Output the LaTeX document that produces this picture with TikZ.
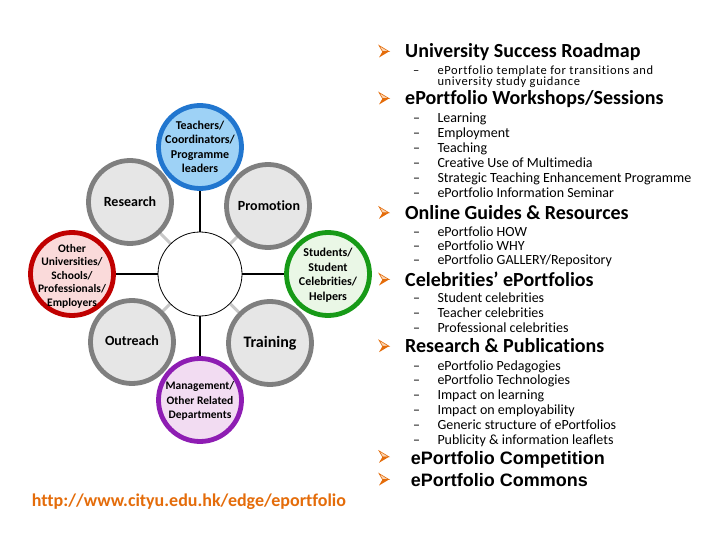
\documentclass[tikz,border=0pt]{standalone}
\usepackage{fontspec}
\setmainfont{Carlito}[Ligatures=NoCommon]
\newfontfamily\arialfam{Liberation Sans}
\usetikzlibrary{backgrounds}
\definecolor{orng}{HTML}{E46C0A}
\definecolor{orngl}{HTML}{FAD3B0}
\definecolor{ringgray}{HTML}{7F7F7F}
\definecolor{fillgray}{HTML}{E6E6E6}
\definecolor{linkgray}{HTML}{C8C8C8}
\definecolor{bluering}{HTML}{2176CF}
\definecolor{bluefill}{HTML}{9ED2F6}
\definecolor{redring}{HTML}{C00000}
\definecolor{redfill}{HTML}{FADADA}
\definecolor{greenring}{HTML}{179A17}
\definecolor{greenfill}{HTML}{EAF7E6}
\definecolor{purplering}{HTML}{8E1DB3}
\definecolor{purplefill}{HTML}{F2DCF2}
\tikzset{
  ring/.style={circle, minimum size=83pt, inner sep=0pt, line width=4.8pt},
  grayring/.style={ring, draw=ringgray, fill=fillgray},
  hub/.style={circle, minimum size=84pt, inner sep=0pt, draw=black, line width=0.8pt, fill=white},
  lbl/.style={align=center, inner sep=0pt, font=\bfseries\fontsize{12}{14.5}\selectfont},
  biglbl/.style={inner sep=0pt, font=\bfseries\fontsize{14}{16}\selectfont},
  spoke/.style={line width=1.6pt, draw=black},
  graylink/.style={line width=3pt, draw=linkgray},
  head/.style={anchor=base west, inner sep=0pt, font=\bfseries\fontsize{20}{22}\selectfont},
  arhead/.style={anchor=base west, inner sep=0pt, font=\arialfam\bfseries\fontsize{18}{20}\selectfont},
  itemtxt/.style={anchor=base west, inner sep=0pt, font=\fontsize{14}{15}\selectfont},
  dashtxt/.style={anchor=base west, inner sep=0pt, font=\fontsize{14}{15}\selectfont},
  arrowbul/.pic={
    \filldraw[fill=orngl, draw=orng, line width=0.6pt] (5,0) -- (-5,-6) -- (-1.5,0) -- cycle;
    \fill[orng] (5,0) -- (-1.5,0) -- (-5,6) -- cycle;
  }
}
\begin{document}
\begin{tikzpicture}[x=1pt,y=-1pt]
\useasboundingbox (0,0) rectangle (720,540);

% hub and circles
\node[hub] (hub) at (200,274) {};
\node[ring, draw=bluering, fill=bluefill] (teach) at (200,147) {};
\node[ring, draw=redring, fill=redfill] (other) at (72,274) {};
\node[ring, draw=greenring, fill=greenfill] (stud) at (328,274) {};
\node[ring, draw=purplering, fill=purplefill] (mgmt) at (200,400) {};
\node[grayring] (res) at (130,202) {};
\node[grayring] (prom) at (268,206) {};
\node[grayring] (outr) at (132,342) {};
\node[grayring] (train) at (270,343) {};

\begin{scope}[on background layer]
  \draw[graylink] (hub) -- (res);
  \draw[graylink] (hub) -- (prom);
  \draw[graylink] (hub) -- (outr);
  \draw[graylink] (hub) -- (train);
  \draw[spoke] (hub) -- (teach);
  \draw[spoke] (hub) -- (other);
  \draw[spoke] (hub) -- (stud);
  \draw[spoke] (hub) -- (mgmt);
\end{scope}

\node[lbl] (teachL) at (200,147) {Teachers/\\Coordinators/\\Programme\\leaders};
\node[lbl, font=\bfseries\fontsize{11.5}{13.5}\selectfont] (otherL) at (72,276) {Other\\Universities/\\Schools/\\Professionals/\\Employers};
\node[lbl] (studL) at (328,275) {Students/\\Student\\Celebrities/\\Helpers};
\node[lbl, font=\bfseries\fontsize{11.5}{14.5}\selectfont] (mgmtL) at (200,401) {Management/\\Other Related\\Departments};
\node[biglbl] (resL) at (130,202) {Research};
\node[biglbl] (promL) at (269,206) {Promotion};
\node[biglbl] (outrL) at (132,341) {Outreach};
\node[biglbl, font=\bfseries\fontsize{16}{18}\selectfont] (trainL) at (270,343) {Training};

% right-hand list
\pic at (384,51.5) {arrowbul};
\node[head] (h1) at (405,58) {University Success Roadmap};
\node[dashtxt, font=\fontsize{12.5}{14}\selectfont] (d11) at (413,74.3) {–};
\node[itemtxt, align=left, font=\addfontfeatures{LetterSpace=5}\fontsize{12.5}{11.4}\selectfont] (i11) at (437.3,85.7) {ePortfolio template for transitions and\\university study guidance};

\pic at (384,98.5) {arrowbul};
\node[head] (h2) at (405,105) {ePortfolio Workshops/Sessions};
\node[dashtxt] (d21) at (413,122.3) {–};
\node[itemtxt] (i21) at (437.3,122.3) {Learning};
\node[dashtxt] (d22) at (413,137.3) {–};
\node[itemtxt] (i22) at (437.3,137.3) {Employment};
\node[dashtxt] (d23) at (413,152.3) {–};
\node[itemtxt] (i23) at (437.3,152.3) {Teaching};
\node[dashtxt] (d24) at (413,167.3) {–};
\node[itemtxt] (i24) at (437.3,167.3) {Creative Use of Multimedia};
\node[dashtxt] (d25) at (413,182.3) {–};
\node[itemtxt] (i25) at (437.3,182.3) {Strategic Teaching Enhancement Programme};
\node[dashtxt] (d26) at (413,197.3) {–};
\node[itemtxt] (i26) at (437.3,197.3) {ePortfolio Information Seminar};

\pic at (384,212.8) {arrowbul};
\node[head] (h3) at (405,219.3) {Online Guides \& Resources};
\node[dashtxt] (d31) at (413,236.5) {–};
\node[itemtxt] (i31) at (437.3,236.5) {ePortfolio HOW};
\node[dashtxt] (d32) at (413,250.5) {–};
\node[itemtxt] (i32) at (437.3,250.5) {ePortfolio WHY};
\node[dashtxt] (d33) at (413,264.5) {–};
\node[itemtxt] (i33) at (437.3,264.5) {ePortfolio GALLERY/Repository};

\pic at (384,279.5) {arrowbul};
\node[head] (h4) at (405,286) {Celebrities’ ePortfolios};
\node[dashtxt] (d41) at (413,302.6) {–};
\node[itemtxt] (i41) at (437.3,302.6) {Student celebrities};
\node[dashtxt] (d42) at (413,317.4) {–};
\node[itemtxt] (i42) at (437.3,317.4) {Teacher celebrities};
\node[dashtxt] (d43) at (413,332.3) {–};
\node[itemtxt] (i43) at (437.3,332.3) {Professional celebrities};

\pic at (384,346.2) {arrowbul};
\node[head] (h5) at (405,352.7) {Research \& Publications};
\node[dashtxt] (d51) at (413,370) {–};
\node[itemtxt] (i51) at (437.3,370) {ePortfolio Pedagogies};
\node[dashtxt] (d52) at (413,384.8) {–};
\node[itemtxt] (i52) at (437.3,384.8) {ePortfolio Technologies};
\node[dashtxt] (d53) at (413,399.6) {–};
\node[itemtxt] (i53) at (437.3,399.6) {Impact on learning};
\node[dashtxt] (d54) at (413,414.4) {–};
\node[itemtxt] (i54) at (437.3,414.4) {Impact on employability};
\node[dashtxt] (d55) at (413,429.2) {–};
\node[itemtxt] (i55) at (437.3,429.2) {Generic structure of ePortfolios};
\node[dashtxt] (d56) at (413,444) {–};
\node[itemtxt] (i56) at (437.3,444) {Publicity \& information leaflets};

\pic at (384,456.8) {arrowbul};
\node[arhead] (h6) at (410.7,464.3) {ePortfolio Competition};
\pic at (384,479.5) {arrowbul};
\node[arhead] (h7) at (410.7,486) {ePortfolio Commons};

% URL
\node[anchor=base west, inner sep=0pt, text=orng, font=\bfseries\fontsize{18}{20}\selectfont] (url) at (31.7,506.7) {http://www.cityu.edu.hk/edge/eportfolio};
\end{tikzpicture}
\end{document}
